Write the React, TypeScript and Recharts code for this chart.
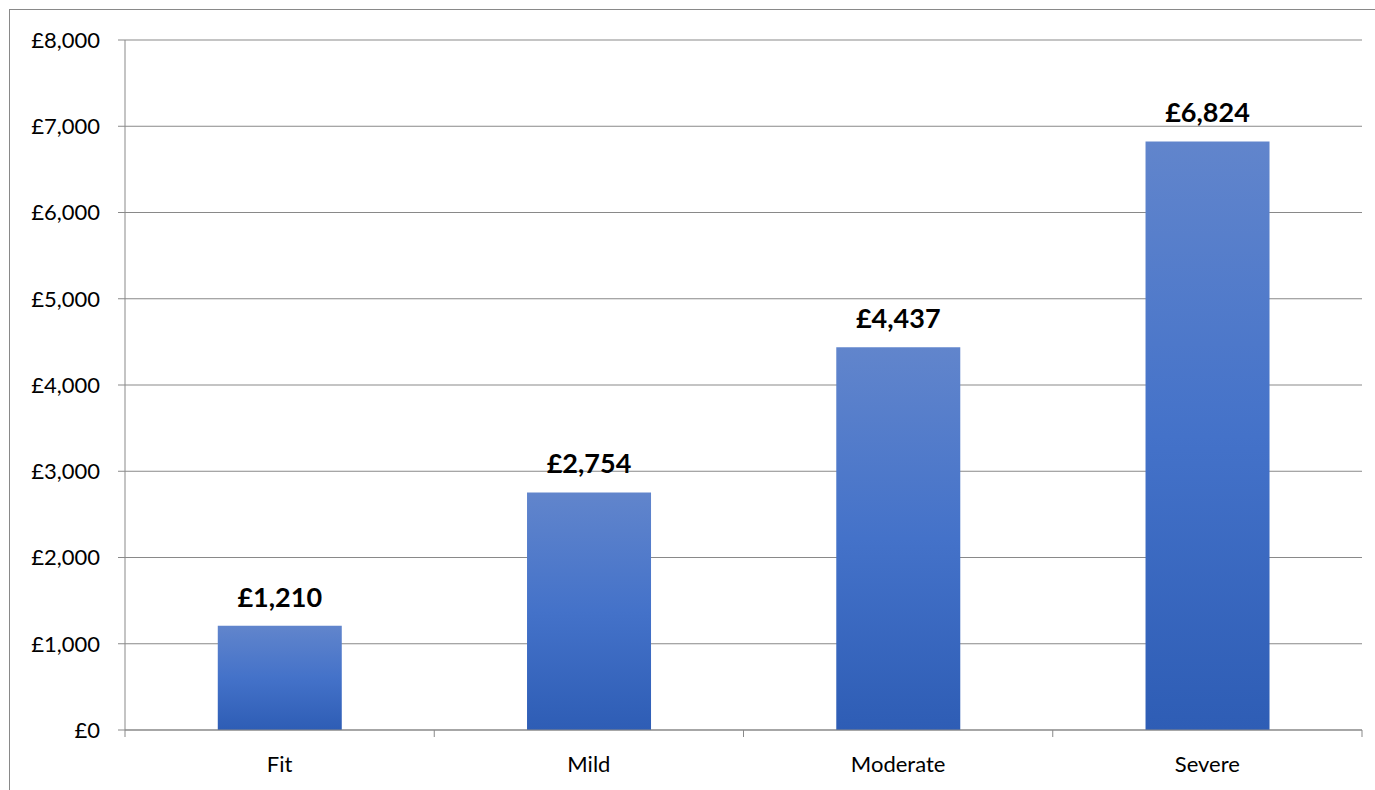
import { BarChart, Bar, XAxis, YAxis, CartesianGrid, LabelList } from "recharts";

const categories = ["Fit", "Mild", "Moderate", "Severe"];
const costs = [1210, 2754, 4437, 6824];
const yTicks = [0, 1000, 2000, 3000, 4000, 5000, 6000, 7000, 8000];

const data = categories.map((name, i) => ({ name, cost: costs[i] }));

const GRID = "#898989";
const FONT = "Lato, 'Open Sans', sans-serif";
const TICK_SIZE = 7;
const TICK_MARGIN = 19;

function pounds(v: number) {
  return "£" + v.toLocaleString("en-GB");
}

// Category label plus the tick marks that sit on the band edges
function CategoryTick(props: any) {
  const { x, y, payload, index, visibleTicksCount } = props;
  const half = payload?.offset ?? 0;
  const axisY = y - TICK_MARGIN - TICK_SIZE;
  const isLast = visibleTicksCount ? index === visibleTicksCount - 1 : index === categories.length - 1;
  return (
    <g>
      {half > 0 && (
        <line x1={x - half} y1={axisY} x2={x - half} y2={axisY + TICK_SIZE} stroke={GRID} />
      )}
      {half > 0 && isLast && (
        <line x1={x + half} y1={axisY} x2={x + half} y2={axisY + TICK_SIZE} stroke={GRID} />
      )}
      <text x={x} y={y} dy="0.71em" textAnchor="middle" fill="#000" fontSize={22} fontFamily={FONT}>
        {payload.value}
      </text>
    </g>
  );
}

export default function App() {
  return (
    <div
      style={{
        position: "absolute",
        left: 9,
        top: 9,
        width: 1366,
        height: 781,
        borderTop: `1px solid ${GRID}`,
        borderLeft: `1px solid ${GRID}`,
        background: "#fff",
      }}
    >
      <BarChart
        width={1365}
        height={780}
        data={data}
        margin={{ top: 30, right: 13, bottom: 0, left: 0 }}
        barCategoryGap="30%"
      >
        <defs>
          <linearGradient id="costFill" x1="0" y1="0" x2="0" y2="1">
            <stop offset="0%" stopColor="#6185CC" />
            <stop offset="50%" stopColor="#4472C9" />
            <stop offset="100%" stopColor="#2E5DB5" />
          </linearGradient>
        </defs>
        <CartesianGrid vertical={false} stroke={GRID} />
        <XAxis
          dataKey="name"
          height={60}
          axisLine={{ stroke: GRID }}
          tickLine={false}
          tickSize={TICK_SIZE}
          tickMargin={TICK_MARGIN}
          tick={<CategoryTick />}
          interval={0}
        />
        <YAxis
          width={115}
          domain={[0, 8000]}
          ticks={yTicks}
          tickFormatter={pounds}
          axisLine={{ stroke: GRID }}
          tickLine={{ stroke: GRID }}
          tickSize={TICK_SIZE}
          tickMargin={18}
          tick={{ fontSize: 22, fill: "#000", fontFamily: FONT }}
        />
        <Bar dataKey="cost" fill="url(#costFill)" isAnimationActive={false}>
          <LabelList
            dataKey="cost"
            position="top"
            offset={19}
            formatter={(v: any) => pounds(Number(v))}
            style={{ fontSize: 27, fontWeight: 700, fill: "#000", fontFamily: FONT }}
          />
        </Bar>
      </BarChart>
    </div>
  );
}
